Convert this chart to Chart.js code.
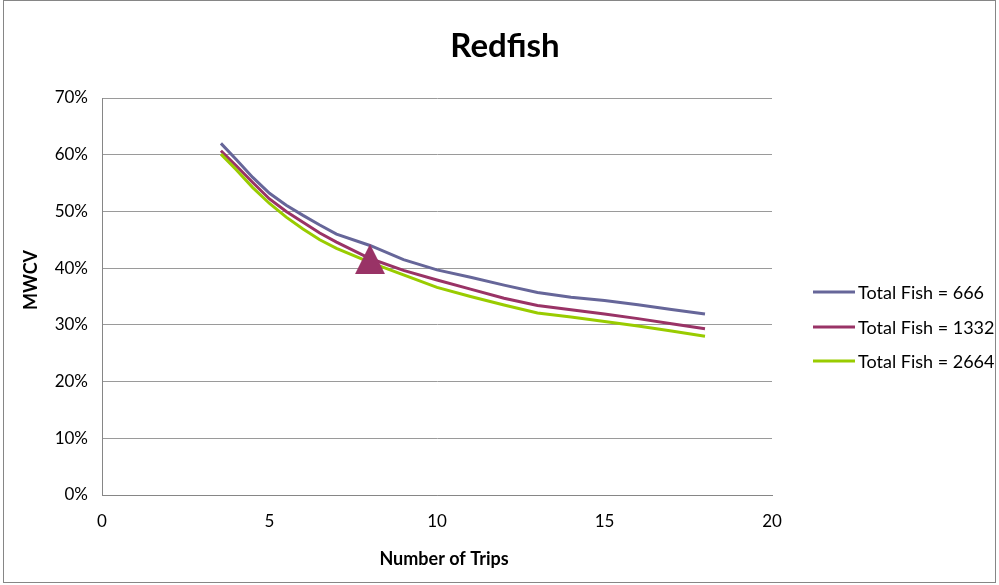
<!DOCTYPE html>
<html>
<head>
<meta charset="utf-8">
<title>Redfish</title>
<script src="https://cdn.jsdelivr.net/npm/chart.js@4.4.1/dist/chart.umd.min.js"></script>
<style>
  html, body { margin: 0; padding: 0; background: #ffffff; }
  #wrap { width: 999px; height: 585px; position: relative; }
  canvas { display: block; }
</style>
</head>
<body>
<div id="wrap"><canvas id="c" width="999" height="585"></canvas></div>
<script>
// Number of trips sampled for each curve
const trips = [3.55, 4, 4.5, 5, 5.5, 6, 6.5, 7, 8, 9, 10, 11, 12, 13, 14, 15, 16, 17, 18];
// Mean weighted CV (%) for each total number of fish
const mwcv666  = [62.0, 59.2, 56.0, 53.2, 51.1, 49.3, 47.6, 46.0, 44.0, 41.5, 39.7, 38.4, 37.0, 35.7, 34.85, 34.3, 33.55, 32.7, 31.9];
const mwcv1332 = [60.7, 58.1, 55.1, 52.2, 50.0, 48.1, 46.2, 44.6, 41.7, 39.6, 37.9, 36.3, 34.7, 33.4, 32.65, 31.9, 31.1, 30.2, 29.3];
const mwcv2664 = [60.1, 57.4, 54.2, 51.4, 49.0, 46.9, 45.0, 43.5, 41.0, 38.8, 36.6, 35.0, 33.5, 32.1, 31.4, 30.6, 29.8, 28.9, 28.0];
const seriesNames  = ['Total Fish = 666', 'Total Fish = 1332', 'Total Fish = 2664'];
const seriesColors = ['#666699', '#993366', '#99CC00'];
// Highlighted design point
const markerTrips = [8];
const markerMwcv  = [41.6];
// Axis ticks
const xTickValues = [0, 5, 10, 15, 20];
const yTickValues = [0, 10, 20, 30, 40, 50, 60, 70];

const FONT = 'Lato, "Open Sans", sans-serif';

function toPoints(xs, ys) { return xs.map((x, i) => ({ x: x, y: ys[i] })); }

// Upright triangle marker centred in its own box
function triangleMarker(size, color) {
  const cv = document.createElement('canvas');
  cv.width = size; cv.height = size;
  const g = cv.getContext('2d');
  g.fillStyle = color;
  g.beginPath();
  g.moveTo(size / 2, 0);
  g.lineTo(size, size);
  g.lineTo(0, size);
  g.closePath();
  g.fill();
  return cv;
}

const decorations = {
  id: 'decorations',
  afterDraw(chart) {
    const ctx = chart.ctx;
    ctx.save();
    // outer frame
    ctx.strokeStyle = '#868686';
    ctx.lineWidth = 1;
    ctx.strokeRect(3.5, 0.5, 992, 582);

    // title
    ctx.fillStyle = '#000000';
    ctx.textAlign = 'center';
    ctx.textBaseline = 'middle';
    ctx.font = 'bold 33px ' + FONT;
    ctx.fillText('Redfish', 505, 46);

    // axis titles
    ctx.font = 'bold 18px ' + FONT;
    ctx.fillText('Number of Trips', 444, 559);
    ctx.save();
    ctx.translate(31, 280);
    ctx.rotate(-Math.PI / 2);
    ctx.fillText('MWCV', 0, 0);
    ctx.restore();

    // legend, one entry per series in series order
    const ys = [292, 327, 361];
    ctx.textAlign = 'left';
    ctx.font = '18px ' + FONT;
    seriesNames.forEach((name, i) => {
      const ds = chart.data.datasets.find(d => d.label === name);
      ctx.strokeStyle = ds.borderColor;
      ctx.lineWidth = 3;
      ctx.beginPath();
      ctx.moveTo(813, ys[i]);
      ctx.lineTo(855, ys[i]);
      ctx.stroke();
      ctx.fillStyle = '#000000';
      ctx.fillText(ds.label, 858, ys[i] + 1);
    });
    ctx.restore();
  }
};

const lineSets = [mwcv666, mwcv1332, mwcv2664].map((vals, i) => ({
  label: seriesNames[i],
  data: toPoints(trips, vals),
  borderColor: seriesColors[i],
  backgroundColor: seriesColors[i],
  borderWidth: 3,
  pointRadius: 0,
  showLine: true,
  tension: 0,
  order: 3 - i
}));

const markerSet = {
  label: 'Design point',
  data: toPoints(markerTrips, markerMwcv),
  pointStyle: triangleMarker(30, '#993366'),
  pointRadius: 15,
  showLine: false,
  order: -1
};

new Chart(document.getElementById('c'), {
  type: 'scatter',
  data: { datasets: [lineSets[0], lineSets[1], lineSets[2], markerSet] },
  options: {
    responsive: false,
    animation: false,
    devicePixelRatio: 1,
    layout: { padding: { left: 0, right: 227, top: 98, bottom: 0 } },
    plugins: {
      legend: { display: false },
      title: { display: false },
      tooltip: { enabled: false }
    },
    scales: {
      x: {
        type: 'linear',
        min: 0, max: 20,
        afterBuildTicks(scale) { scale.ticks = xTickValues.map(v => ({ value: v })); },
        afterFit(scale) { scale.height = 90; },
        grid: { display: false, drawTicks: false },
        border: { display: true, color: '#868686', width: 1 },
        ticks: { padding: 16, color: '#000000', font: { family: FONT, size: 17 }, maxRotation: 0 }
      },
      y: {
        type: 'linear',
        min: 0, max: 70,
        afterBuildTicks(scale) { scale.ticks = yTickValues.map(v => ({ value: v })); },
        afterFit(scale) { scale.width = 102; },
        grid: { display: true, color: '#9a9a9a', lineWidth: 1, drawTicks: false },
        border: { display: true, color: '#868686', width: 1 },
        ticks: { padding: 14, color: '#000000', font: { family: FONT, size: 17 }, callback: v => v + '%' }
      }
    }
  },
  plugins: [decorations]
});
</script>
</body>
</html>
